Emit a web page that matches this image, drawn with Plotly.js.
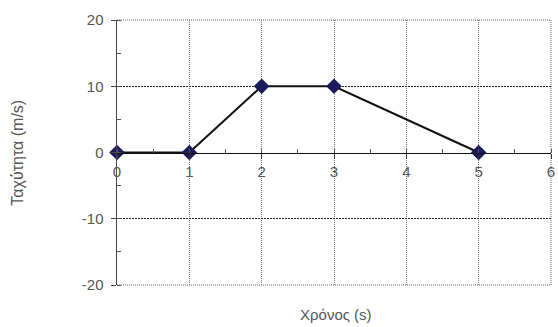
<!DOCTYPE html>
<html>
<head>
<meta charset="utf-8">
<script src="https://cdn.plot.ly/plotly-3.0.1.min.js"></script>
<style>
  html, body { margin: 0; padding: 0; background: #fff; }
  #chart { width: 558px; height: 327px; }
</style>
</head>
<body>
<div id="chart"></div>
<script>
// Velocity–time data
const timeValues = [0, 1, 2, 3, 5];
const speedValues = [0, 0, 10, 10, 0];
const xTicks = [0, 1, 2, 3, 4, 5, 6];
const yTicks = [-20, -10, 0, 10, 20];
const yDarkGrid = [-10, 10];

const font = "Liberation Sans, Arial, sans-serif";

const trace = {
  x: timeValues,
  y: speedValues,
  type: 'scatter',
  mode: 'lines+markers',
  line: { color: '#111111', width: 2 },
  marker: { symbol: 'diamond', size: 12, color: '#1a1a5c' },
  hoverinfo: 'x+y',
  cliponaxis: false
};

// dotted frame along the top, bottom and right edges of the plot area
const frameLine = { color: '#666666', width: 1, dash: '1px,1px' };
const frame = [
  { type: 'line', xref: 'paper', yref: 'paper', x0: 0, x1: 1, y0: 1, y1: 1, line: frameLine, layer: 'below' },
  { type: 'line', xref: 'paper', yref: 'paper', x0: 0, x1: 1, y0: 0, y1: 0, line: frameLine, layer: 'below' },
  { type: 'line', xref: 'paper', yref: 'paper', x0: 1, x1: 1, y0: 0, y1: 1, line: frameLine, layer: 'below' }
];

const layout = {
  width: 558,
  height: 327,
  margin: { l: 117, r: 7, t: 20, b: 42 },
  paper_bgcolor: '#ffffff',
  plot_bgcolor: '#ffffff',
  showlegend: false,
  font: { family: font, size: 15, color: '#555555' },
  xaxis: {
    range: [0, 6],
    tickvals: xTicks,
    ticktext: xTicks.map(String),
    anchor: 'free',
    position: 0.5,
    showline: true,
    linecolor: '#111111',
    linewidth: 1.5,
    ticks: 'outside',
    ticklen: 5,
    tickcolor: '#333333',
    tickfont: { family: font, size: 15, color: '#555555' },
    showgrid: true,
    gridcolor: '#777777',
    griddash: '1px,1px',
    gridwidth: 1,
    zeroline: false,
    minor: { dtick: 0.5, ticks: 'inside', ticklen: 4, tickcolor: '#555555', showgrid: false },
    fixedrange: true
  },
  yaxis: {
    range: [-20, 20],
    tickvals: yTicks,
    ticktext: yTicks.map(String),
    showline: true,
    linecolor: '#444444',
    linewidth: 1.5,
    ticks: 'outside',
    ticklen: 5,
    tickcolor: '#444444',
    ticklabelstandoff: 4,
    tickfont: { family: font, size: 15, color: '#555555' },
    showgrid: false,
    zeroline: false,
    minor: { dtick: 5, ticks: 'inside', ticklen: 4, tickcolor: '#555555', showgrid: false },
    fixedrange: true
  },
  yaxis2: {
    overlaying: 'y',
    range: [-20, 20],
    tickvals: yDarkGrid,
    showticklabels: false,
    ticks: '',
    showline: false,
    showgrid: true,
    gridcolor: '#222222',
    griddash: '2px,1px',
    gridwidth: 1.2,
    zeroline: false,
    fixedrange: true
  },
  shapes: frame,
  annotations: [
    {
      text: 'Χρόνος (s)',
      xref: 'paper', yref: 'paper',
      x: 0.505, y: -0.113,
      xanchor: 'center', yanchor: 'middle',
      showarrow: false,
      font: { family: font, size: 15, color: '#555555' }
    },
    {
      text: 'Ταχύτητα (m/s)',
      xref: 'paper', yref: 'paper',
      x: -0.23, y: 0.5,
      xanchor: 'center', yanchor: 'middle',
      textangle: -90,
      showarrow: false,
      font: { family: font, size: 16, color: '#555555' }
    }
  ]
};

// an empty trace on yaxis2 so the overlay axis (dark grid at ±10) is drawn
const gridTrace = { x: [null], y: [null], yaxis: 'y2', type: 'scatter', hoverinfo: 'skip', showlegend: false };

Plotly.newPlot('chart', [gridTrace, trace], layout, { displayModeBar: false, staticPlot: true });
</script>
</body>
</html>
